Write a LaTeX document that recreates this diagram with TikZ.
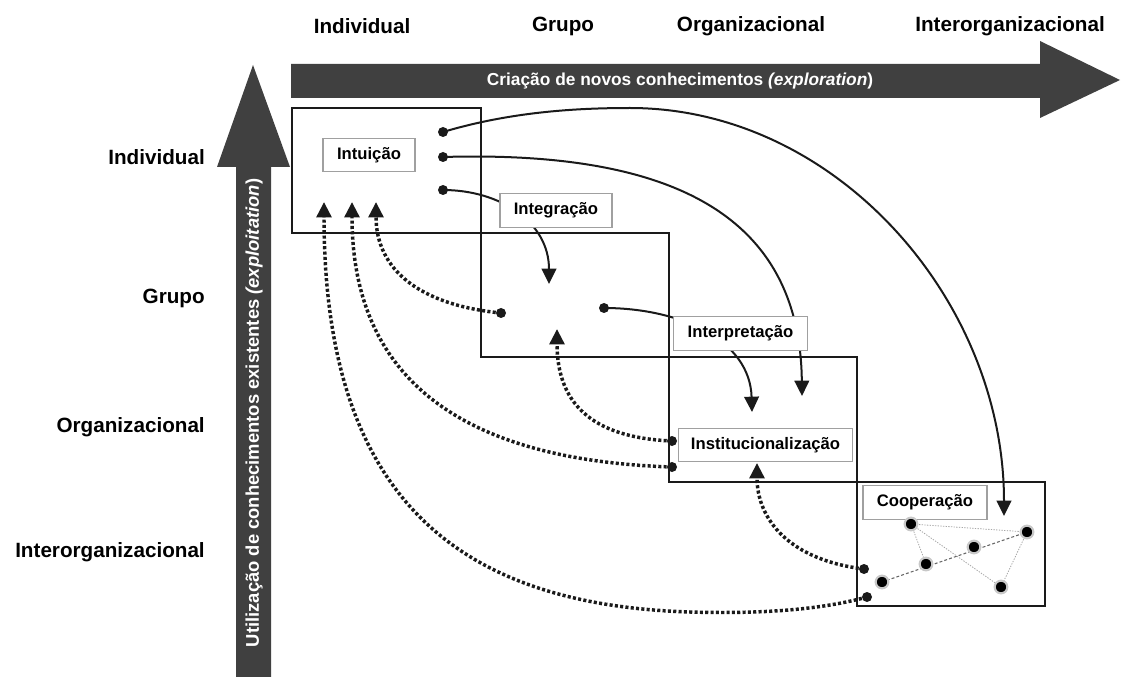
\documentclass[tikz,border=0pt]{standalone}
\usepackage{fontspec}
\setmainfont{Liberation Sans}
\usetikzlibrary{arrows.meta}
\definecolor{arrowgray}{HTML}{404040}
\definecolor{ink}{HTML}{1A1A1A}
\definecolor{labelframe}{HTML}{A0A0A0}
\definecolor{halo}{HTML}{C8C8C8}

\begin{document}
\begin{tikzpicture}[x=0.75pt,y=-0.75pt,
  level/.style={font=\fontsize{15.5}{18}\selectfont\bfseries, text=black, inner sep=0pt},
  bandtext/.style={font=\fontsize{13}{15}\selectfont\bfseries, text=white, inner sep=0pt},
  stage/.style={draw=labelframe, line width=0.8pt, fill=white, inner sep=0pt,
    font=\fontsize{12.5}{14}\selectfont\bfseries, minimum height=25pt},
  region/.style={draw=ink, line width=1.8pt},
  dot/.style={circle, fill=ink, inner sep=0pt, minimum size=7.5pt},
  netnode/.style={circle, fill=black, draw=halo, line width=1.6pt, inner sep=0pt, minimum size=9.5pt},
  flow/.style={draw=ink, line width=1.5pt, -{Triangle[length=11.5pt,width=11pt]}},
  feedback/.style={draw=ink, line width=2.6pt, dash pattern=on 2.3pt off 1.7pt,
    -{Triangle[length=11.5pt,width=11pt]}},
  tie/.style={draw=gray!70, line width=0.6pt, dash pattern=on 1pt off 1pt},
  chain/.style={draw=gray!80!black, line width=0.8pt, dash pattern=on 2.2pt off 1.6pt}]

\useasboundingbox (0,0) rectangle (1121,677);

% column and row headings
\node[level] (colI) at (362,26) {Individual};
\node[level] (colG) at (563,26) {Grupo};
\node[level] (colO) at (751,26) {Organizacional};
\node[level] (colX) at (1010,26) {Interorganizacional};

\node[level, anchor=east] (rowI) at (205,157) {Individual};
\node[level, anchor=east] (rowG) at (205,298) {Grupo};
\node[level, anchor=east] (rowO) at (205,427) {Organizacional};
\node[level, anchor=east] (rowX) at (205,552) {Interorganizacional};

% exploration band
\fill[arrowgray] (291,64) -- (1040,64) -- (1040,41) -- (1120,80) -- (1040,118)
  -- (1040,98) -- (291,98) -- cycle;
\node[bandtext] (explore) at (680,81) {Criação de novos conhecimentos \textit{(exploration})};

% exploitation band
\fill[arrowgray] (236,677) -- (236,167) -- (217,167) -- (253,65) -- (290,167)
  -- (271,167) -- (271,677) -- cycle;
\node[bandtext, font=\fontsize{13.8}{15}\selectfont\bfseries, rotate=90] (exploit) at (254,413)
  {Utilização de conhecimentos existentes \textit{(exploitation})};

% staircase of levels
\draw[region] (292,108) rectangle (481,233);
\draw[region] (481,233) rectangle (669,357);
\draw[region] (669,357) rectangle (857,482);
\draw[region] (857,482) rectangle (1045,606);

% starting points
\node[dot] (i1) at (443,132) {};
\node[dot] (i2) at (443,157) {};
\node[dot] (i3) at (443,190) {};
\node[dot] (g1) at (501,313) {};
\node[dot] (g2) at (604,308) {};
\node[dot] (o1) at (672,441) {};
\node[dot] (o2) at (672,467) {};
\node[dot] (x1) at (864,569) {};
\node[dot] (x2) at (867,597) {};

% arrow targets
\coordinate (tI1) at (324,202);
\coordinate (tI2) at (352,202);
\coordinate (tI3) at (376,202);
\coordinate (tG1) at (549,284);
\coordinate (tG2) at (557,329);
\coordinate (tO1) at (752,412);
\coordinate (tO2) at (802,396);
\coordinate (tO3) at (757,463);
\coordinate (tX1) at (1004,516);

% feed-forward flows
\draw[flow] (i1.center) .. controls (510,112) and (575,108) .. (630,108)
  .. controls (836,108) and (1004,300) .. (tX1);
\draw[flow] (i2.center) .. controls (680,150) and (800,220) .. (tO2);
\draw[flow] (i3.center) .. controls (500,190) and (549,222) .. (tG1);
\draw[flow] (g2.center) .. controls (680,308) and (750,340) .. (tO1);

% feedback flows
\draw[feedback] (g1.center) .. controls (420,305) and (376,270) .. (tI3);
\draw[feedback] (o2.center) .. controls (450,460) and (352,370) .. (tI2);
\draw[feedback] (x2.center) .. controls (820,610) and (760,614) .. (690,612)
  .. controls (460,605) and (324,500) .. (tI1);
\draw[feedback] (o1.center) .. controls (600,438) and (557,410) .. (tG2);
\draw[feedback] (x1.center) .. controls (790,560) and (757,520) .. (tO3);

% process labels
\node[stage, minimum width=69pt] (intu) at (369,155) {Intuição};
\node[stage, minimum width=84pt] (integ) at (556,210.5) {Integração};
\node[stage, minimum width=100pt] (interp) at (740.5,333.5) {Interpretação};
\node[stage, minimum width=131pt] (inst) at (765.5,445) {Institucionalização};
\node[stage, minimum width=93pt] (coop) at (925,502.5) {Cooperação};

% inter-organisational network
\draw[tie] (911,524) -- (1027,532);
\draw[tie] (911,524) -- (926,564);
\draw[tie] (911,524) -- (1001,587);
\draw[tie] (1027,532) -- (1001,587);
\draw[chain] (882,582) -- (1027,532);
\node[netnode] (n1) at (911,524) {};
\node[netnode] (n2) at (1027,532) {};
\node[netnode] (n3) at (974,547) {};
\node[netnode] (n4) at (926,564) {};
\node[netnode] (n5) at (882,582) {};
\node[netnode] (n6) at (1001,587) {};
\end{tikzpicture}
\end{document}
